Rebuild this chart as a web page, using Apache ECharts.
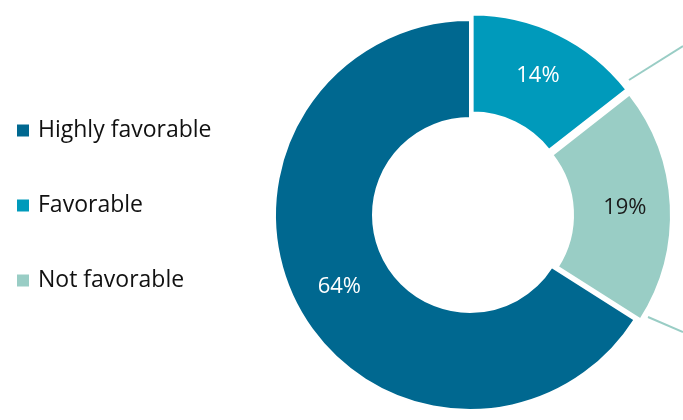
<!DOCTYPE html>
<html>
<head>
<meta charset="utf-8">
<script src="https://cdn.jsdelivr.net/npm/echarts@6/dist/echarts.min.js"></script>
<style>
  html, body { margin: 0; padding: 0; background: #fff; }
  #myChart { width: 683px; height: 420px; }
</style>
</head>
<body>
<div id="myChart"></div>
<script>
// data
var categories = ['Highly favorable', 'Favorable', 'Not favorable'];
var values = [64, 14, 19];
var colors = ['#006890', '#009abb', '#99cdc5'];
var labelColors = ['#ffffff', '#ffffff', '#1a1a1a'];
var exploded = [false, true, true];

var total = values.reduce(function (a, b) { return a + b; }, 0);
// first slice ends at the top, the others follow clockwise
var startAngle = 90 + 360 * values[0] / total;

var myChart = echarts.init(document.getElementById('myChart'));
var option = {
  animation: false,
  color: colors,
  legend: {
    orient: 'vertical',
    left: 15,
    top: 119,
    padding: 0,
    itemGap: 52,
    itemWidth: 14,
    itemHeight: 14,
    icon: 'rect',
    selectedMode: false,
    data: categories,
    textStyle: {
      fontFamily: 'Open Sans',
      fontSize: 23,
      color: '#111',
      padding: [0, 0, 0, 3]
    }
  },
  graphic: [
    { type: 'line', shape: { x1: 629, y1: 80, x2: 683, y2: 46 }, style: { stroke: '#99cdc5', lineWidth: 2 } },
    { type: 'line', shape: { x1: 648, y1: 317, x2: 683, y2: 332 }, style: { stroke: '#99cdc5', lineWidth: 2 } }
  ],
  series: [
    {
      type: 'pie',
      center: [470, 215],
      radius: [97, 195],
      startAngle: startAngle,
      clockwise: true,
      selectedMode: 'multiple',
      selectedOffset: 6,
      avoidLabelOverlap: false,
      emphasis: { disabled: true },
      itemStyle: { borderColor: '#fff', borderWidth: 2 },
      label: {
        show: true,
        position: 'inside',
        formatter: '{c}%',
        fontFamily: 'Open Sans',
        fontSize: 22
      },
      labelLine: { show: false },
      data: categories.map(function (name, i) {
        return {
          name: name,
          value: values[i],
          selected: exploded[i],
          label: { color: labelColors[i] }
        };
      })
    }
  ]
};
myChart.setOption(option);
</script>
</body>
</html>
